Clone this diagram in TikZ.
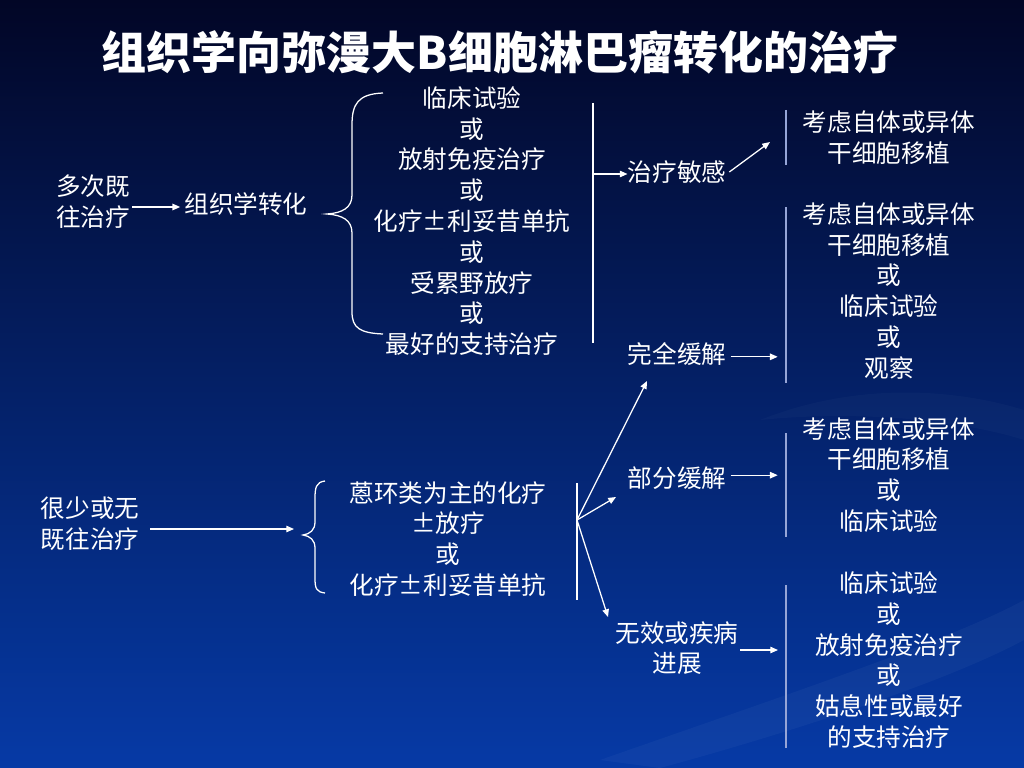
\documentclass[tikz,border=0pt]{standalone}
\usepackage{fontspec}
\setmainfont{Noto Sans CJK SC}
\usetikzlibrary{arrows.meta,positioning,shadings,calc}
\definecolor{bgtop}{RGB}{2,6,38}
\definecolor{bgmid}{RGB}{8,46,142}
\definecolor{bgbot}{RGB}{6,58,166}
\definecolor{barcol}{RGB}{150,165,215}
\tikzset{
	txt/.style={text=white,align=center,inner sep=0pt,font=\fontsize{17.5}{21.9}\selectfont},
	arr/.style={-{Triangle[length=5.5pt,width=4.6pt]},white,line width=0.9pt},
	bar/.style={barcol,line width=1pt},
	brace/.style={white,line width=0.9pt},
}
\begin{document}
\begin{tikzpicture}[x=0.025cm,y=-0.025cm]

%background
\shade[top color=bgtop,middle color=bgmid,bottom color=bgbot] (0,0) rectangle (1024,768);
\useasboundingbox (0,0) rectangle (1024,768);
\fill[white,opacity=0.035] (600,760) .. controls (800,690) and (950,640) .. (1024,600)
-- ++(0,40) .. controls (950,680) and (800,730) .. (660,768) -- cycle;% swirl
\fill[white,opacity=0.025] (760,420) .. controls (860,380) and (960,390) .. (1024,410)
-- ++(0,30) .. controls (960,420) and (860,410) .. (760,420) -- cycle;% swirl

%title
\node[text=white,inner sep=0pt,font=\fontsize{32}{38}\selectfont\bfseries] (title) at (500,52) {组织学向弥漫大B细胞淋巴瘤转化的治疗};

%upper branch
\node[txt] (multi) at (93,202) {多次既\\往治疗};
\node[txt] (histo) at (246,204) {组织学转化};
\draw[arr] ($(multi.east)+(2,5)$) -- ($(histo.west |- multi.east)+(-4,5)$);
\node[txt] (opts1) at (472,221) {临床试验\\或\\放射免疫治疗\\或\\化疗±利妥昔单抗\\或\\受累野放疗\\或\\最好的支持治疗};
\draw[brace] (383,93) .. controls (358,94) and (352,104) .. (352,125) -- (352,195)
.. controls (352,208) and (342,213) .. (327,214) .. controls (342,215) and (352,220) .. (352,233)
-- (352,312) .. controls (352,328) and (360,333) .. (383,334);% brace

\coordinate (bar1top) at (593,103);
\coordinate (bar1bot) at (593,343);
\coordinate (bar1mid) at (593,174);
\draw[bar,white] (bar1top) -- (bar1bot);
\node[txt] (sens) at (677,172) {治疗敏感};
\node[txt] (cr) at (677,354) {完全缓解};
\draw[arr] (bar1mid) -- (sens.west |- bar1mid);

\node[txt] (sct1) at (889,138) {考虑自体或异体\\干细胞移植};
\node[txt] (sct2) at (889,291) {考虑自体或异体\\干细胞移植\\或\\临床试验\\或\\观察};
\draw[bar] (786,110) -- (786,165);
\draw[bar] (786,207) -- (786,383);
\coordinate (sensend) at (770,142);
\draw[arr] ([xshift=2]sens.east) -- (sensend);
\draw[arr] ([xshift=3,yshift=-2]cr.east) -- ++(47,0);

%lower branch
\node[txt] (few) at (90,524) {很少或无\\既往治疗};
\coordinate (braceend) at (294,529);
\draw[arr] (150,529) -- (braceend);
\node[txt] (opts2) at (448,539) {蒽环类为主的化疗\\±放疗\\或\\化疗±利妥昔单抗};
\draw[brace] (325,481) .. controls (316,482) and (315,488) .. (315,498) -- (315,522)
.. controls (315,530) and (310,534) .. (303,535) .. controls (310,536) and (315,540) .. (315,548)
-- (315,578) .. controls (315,588) and (316,592) .. (325,593);% brace

\coordinate (hub) at (577,520);
\draw[white,line width=0.9pt] (577,483) -- (577,600);
\node[txt] (pr) at (677,478) {部分缓解};
\node[txt] (pd) at (677,648) {无效或疾病\\进展};
\draw[arr] (hub) -- (647,381);
\draw[arr] (hub) -- (616,497);
\draw[arr] (hub) -- (608,617);

\node[txt] (sct3) at (889,475) {考虑自体或异体\\干细胞移植\\或\\临床试验};
\node[txt] (trial) at (889,660) {临床试验\\或\\放射免疫治疗\\或\\姑息性或最好\\的支持治疗};
\draw[bar] (786,433) -- (786,537);
\draw[bar] (786,585) -- (786,748);
\draw[arr] ([xshift=3,yshift=2]pr.east) -- ++(47,0);
\draw[arr] (740,650) -- (778,650);

\end{tikzpicture}
\end{document}
